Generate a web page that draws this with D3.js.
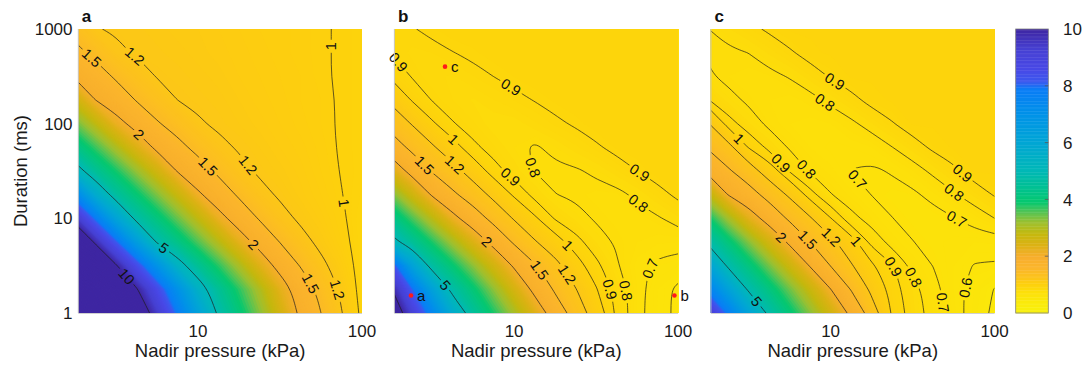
<!DOCTYPE html>
<html>
<head>
<meta charset="utf-8">
<script src="https://cdn.jsdelivr.net/npm/d3@7"></script>
<style>
  body { margin: 0; background: #fff; }
  text { font-family: "Liberation Sans", Arial, Helvetica, sans-serif; }
</style>
</head>
<body>
<svg id="chart" width="1085" height="365"></svg>
<script>
// Sampling grid of the maps (log-spaced): pressure in kPa, duration in ms (top row first)
const pressureGrid = [1.778, 2.371, 3.162, 4.217, 5.623, 7.499, 10, 13.34, 17.78, 23.71, 31.62, 42.17, 56.23, 74.99, 100];
const durationGrid = [1000, 562.3, 316.2, 177.8, 100, 56.23, 31.62, 17.78, 10, 5.623, 3.162, 1.778, 1];

// Panel a field
const fieldA = [
  [1.38, 1.21, 1.18, 1.165, 1.15, 1.13, 1.12, 1.10, 1.08, 1.06, 1.05, 1.03, 1.01, 0.99, 0.97],
  [1.60, 1.41, 1.24, 1.18, 1.165, 1.15, 1.13, 1.11, 1.09, 1.07, 1.05, 1.03, 1.01, 0.99, 0.97],
  [1.92, 1.67, 1.45, 1.30, 1.19, 1.17, 1.15, 1.13, 1.10, 1.08, 1.06, 1.04, 1.01, 0.99, 0.97],
  [2.66, 2.00, 1.73, 1.48, 1.33, 1.20, 1.17, 1.15, 1.12, 1.09, 1.07, 1.04, 1.02, 0.99, 0.97],
  [3.49, 2.84, 2.18, 1.81, 1.53, 1.37, 1.22, 1.17, 1.14, 1.11, 1.08, 1.05, 1.02, 0.99, 0.97],
  [4.33, 3.68, 3.03, 2.38, 1.88, 1.60, 1.40, 1.25, 1.18, 1.14, 1.10, 1.07, 1.03, 0.99, 0.97],
  [5.38, 4.49, 3.86, 3.22, 2.58, 1.97, 1.67, 1.43, 1.26, 1.17, 1.13, 1.09, 1.04, 0.995, 0.97],
  [7.52, 5.76, 4.64, 4.00, 3.36, 2.72, 2.08, 1.72, 1.45, 1.27, 1.17, 1.11, 1.06, 1.003, 0.956],
  [9.56, 7.84, 6.13, 4.78, 4.13, 3.47, 2.82, 2.17, 1.76, 1.47, 1.28, 1.16, 1.09, 1.02, 0.935],
  [11.5, 9.83, 8.15, 6.47, 4.92, 4.26, 3.59, 2.93, 2.27, 1.81, 1.49, 1.29, 1.14, 1.04, 0.94],
  [13.2, 11.6, 10.1, 8.51, 6.94, 5.38, 4.47, 3.76, 3.06, 2.35, 1.82, 1.48, 1.26, 1.09, 0.94],
  [14.8, 13.3, 11.7, 10.1, 8.58, 7.02, 5.46, 4.49, 3.75, 3.02, 2.29, 1.75, 1.40, 1.16, 0.94],
  [15.8, 14.2, 12.6, 11.0, 9.43, 7.85, 6.27, 4.85, 4.08, 3.32, 2.55, 1.89, 1.50, 1.21, 0.96]
];

// Panel b field
const fieldB = [
  [0.882, 0.895, 0.916, 0.937, 0.94, 0.94, 0.94, 0.94, 0.94, 0.94, 0.94, 0.94, 0.94, 0.94, 0.94],
  [0.897, 0.875, 0.880, 0.898, 0.915, 0.933, 0.94, 0.94, 0.94, 0.94, 0.94, 0.94, 0.94, 0.94, 0.94],
  [0.976, 0.895, 0.865, 0.857, 0.879, 0.9005, 0.921, 0.938, 0.94, 0.94, 0.94, 0.94, 0.94, 0.94, 0.94],
  [1.154, 0.993, 0.895, 0.86, 0.837, 0.859, 0.881, 0.903, 0.925, 0.94, 0.94, 0.94, 0.94, 0.94, 0.94],
  [1.37, 1.19, 1.02, 0.906, 0.864, 0.822, 0.825, 0.855, 0.885, 0.91, 0.935, 0.94, 0.94, 0.94, 0.94],
  [1.70, 1.42, 1.23, 1.06, 0.92, 0.864, 0.82, 0.79, 0.819, 0.854, 0.889, 0.924, 0.94, 0.94, 0.94],
  [2.40, 1.82, 1.47, 1.28, 1.10, 0.94, 0.857, 0.798, 0.786, 0.79, 0.815, 0.857, 0.8997, 0.94, 0.94],
  [3.43, 2.65, 1.94, 1.56, 1.33, 1.14, 0.978, 0.869, 0.8015, 0.787, 0.772, 0.775, 0.817, 0.868, 0.92],
  [4.37, 3.63, 2.89, 2.15, 1.69, 1.39, 1.18, 1.02, 0.89, 0.83, 0.79, 0.772, 0.768, 0.791, 0.833],
  [5.30, 4.53, 3.82, 3.11, 2.40, 1.82, 1.45, 1.22, 1.06, 0.94, 0.84, 0.79, 0.76, 0.745, 0.74],
  [8.57, 6.26, 4.68, 3.98, 3.28, 2.57, 1.93, 1.53, 1.27, 1.06, 0.93, 0.81, 0.73, 0.68, 0.66],
  [10.1, 8.10, 6.25, 4.76, 4.02, 3.27, 2.52, 1.86, 1.45, 1.21, 1.01, 0.86, 0.74, 0.64, 0.58],
  [11.0, 9.23, 7.48, 5.73, 4.57, 3.83, 3.09, 2.35, 1.72, 1.34, 1.085, 0.876, 0.737, 0.637, 0.58]
];

// Panel c field
const fieldC = [
  [0.798, 0.837, 0.876, 0.914, 0.945, 0.945, 0.945, 0.945, 0.945, 0.945, 0.945, 0.945, 0.945, 0.945, 0.945],
  [0.792, 0.785, 0.801, 0.845, 0.889, 0.933, 0.945, 0.945, 0.945, 0.945, 0.945, 0.945, 0.945, 0.945, 0.945],
  [0.811, 0.78, 0.767, 0.777, 0.806, 0.857, 0.908, 0.945, 0.945, 0.945, 0.945, 0.945, 0.945, 0.945, 0.945],
  [0.906, 0.826, 0.785, 0.76, 0.747, 0.77, 0.821, 0.874, 0.928, 0.945, 0.945, 0.945, 0.945, 0.945, 0.945],
  [1.22, 0.944, 0.844, 0.78, 0.74, 0.728, 0.74, 0.781, 0.838, 0.894, 0.945, 0.945, 0.945, 0.945, 0.945],
  [1.47, 1.27, 0.99, 0.87, 0.79, 0.74, 0.712, 0.72, 0.74, 0.798, 0.858, 0.918, 0.945, 0.945, 0.945],
  [1.85, 1.54, 1.32, 1.08, 0.89, 0.79, 0.75, 0.698, 0.685, 0.708, 0.758, 0.82, 0.882, 0.944, 0.945],
  [2.89, 1.98, 1.64, 1.38, 1.16, 0.94, 0.805, 0.75, 0.698, 0.67, 0.68, 0.731, 0.788, 0.848, 0.908],
  [3.98, 3.13, 2.29, 1.76, 1.44, 1.22, 1.005, 0.83, 0.76, 0.702, 0.67, 0.66, 0.695, 0.744, 0.80],
  [4.86, 4.09, 3.32, 2.55, 1.89, 1.498, 1.26, 1.06, 0.87, 0.76, 0.703, 0.67, 0.65, 0.64, 0.645],
  [6.24, 4.87, 4.14, 3.40, 2.66, 1.96, 1.49, 1.22, 1.02, 0.91, 0.77, 0.698, 0.64, 0.595, 0.59],
  [7.76, 6.26, 4.88, 4.16, 3.44, 2.72, 2.01, 1.48, 1.15, 0.95, 0.84, 0.74, 0.64, 0.56, 0.495],
  [9.4, 7.8, 6.17, 4.79, 4.05, 3.31, 2.57, 1.86, 1.31, 0.98, 0.85, 0.76, 0.65, 0.55, 0.48]
];

// Contour levels drawn in each panel
const levelsA = [1, 1.2, 1.5, 2, 5, 10];
const levelsB = [0.6, 0.7, 0.8, 0.9, 1, 1.2, 1.5, 2, 5, 10];
const levelsC = [0.5, 0.6, 0.7, 0.8, 0.9, 1, 1.2, 1.5, 2, 5, 10];

// Inline contour labels: [level, pressure (kPa), duration (ms)]
const labelsA = [[1.2, 3.94, 471], [1.5, 2.19, 471], [1.2, 19.3, 33.7], [1.5, 11.3, 35.2], [2, 4.23, 72.9],
  [2, 21.2, 5.02], [5, 6.14, 4.82], [10, 3.76, 2.51], [1.5, 49.3, 2.06], [1.2, 71.6, 1.75], [1, 62.2, 650], [1, 80.5, 14.4]];
const labelsB = [[0.9, 1.95, 434], [0.9, 9.66, 245], [0.9, 58.6, 29.9], [0.8, 57.3, 14.4], [0.8, 12.6, 33.7],
  [0.9, 9.1, 25.4], [1, 4.17, 67.1], [1.2, 4.31, 36.6], [1.5, 2.82, 35.2], [2, 6.72, 5.45], [5, 3.74, 1.9],
  [1.5, 14.5, 2.84], [1.2, 21.6, 2.62], [1, 21.1, 5.02], [0.9, 38.5, 1.75], [0.8, 47.5, 1.75], [0.7, 61.4, 3.08]];
const labelsC = [[0.9, 10.6, 278], [0.8, 9.23, 171], [0.9, 62.8, 29.9], [0.8, 56.0, 18.4], [0.7, 58.6, 9.6],
  [1, 2.74, 67.1], [0.9, 4.91, 38.1], [0.8, 6.97, 32.4], [0.7, 14.4, 25.4], [2, 4.91, 6.15], [1.5, 7.29, 5.9],
  [1.2, 10.1, 6.4], [1, 14.4, 5.9], [0.9, 24.7, 3.09], [0.8, 32.7, 2.42], [0.7, 49.8, 1.32], [0.6, 64.4, 1.9], [5, 3.53, 1.32]];

// Marked conditions in panel b: [name, pressure (kPa), duration (ms)]
const markersB = [["a", 2.35, 1.53], ["b", 95, 1.53], ["c", 3.79, 400]];

// Axis ticks
const xTicks = [10, 100];
const yTicks = [1, 10, 100, 1000];
const colorTicks = [0, 2, 4, 6, 8, 10];

// Colour map stops
const cmapValues = [0, 0.5, 0.75, 1.0, 1.25, 1.6, 2.0, 2.4, 2.8, 3.2, 3.6, 3.9, 4.4, 5.0, 6.0, 7.0, 7.9, 8.15, 8.6, 9.3, 10];
const cmapColors = ["#f8f20c", "#fbe70a", "#fddf0a", "#fdd10c", "#fcc41a", "#fbb52c", "#f7ae2c", "#dcb214",
  "#c4b80e", "#9cc030", "#4cc458", "#06c86e", "#00c190", "#00b8b6", "#00a6d4", "#0092e8", "#0a7cf6",
  "#3c58ee", "#4848e6", "#4640d2", "#3e26a2"];

// ---------------------------------------------------------------------------
const W = 1085, H = 365;
const plotTop = 29, plotBottom = 313, plotWidth = 283.7;
const panelLefts = [78.3, 394.4, 710.9];
const xDomain = [1.862, 100];

const svg = d3.select("#chart");
const defs = svg.append("defs");

const y = d3.scaleLog().domain([1, 1000]).range([plotBottom, plotTop]);
const colorScale = d3.scaleLinear().domain(cmapValues).range(cmapColors).clamp(true);

const nx = pressureGrid.length, ny = durationGrid.length;
const colToLog = d3.scaleLinear().domain(pressureGrid.map((_, i) => i + 0.5)).range(pressureGrid.map(Math.log10));
const rowToLog = d3.scaleLinear().domain(durationGrid.map((_, i) => i + 0.5)).range(durationGrid.map(Math.log10));

const fillThresholds = d3.range(0, 3, 0.02).concat(d3.range(3, 16, 0.1));

const openCurve = d3.line().curve(d3.curveBasis);
const closedCurve = d3.line().curve(d3.curveBasisClosed);

// Break contour rings where they run along the padded grid border
function splitRings(geom) {
  const segs = [];
  const onEdge = p => p[0] <= 0 || p[0] >= nx || p[1] <= 0 || p[1] >= ny;
  geom.coordinates.forEach(poly => poly.forEach(ring => {
    let pts = ring.slice();
    const f = pts[0], l = pts[pts.length - 1];
    if (pts.length > 1 && f[0] === l[0] && f[1] === l[1]) pts.pop();
    const k = pts.findIndex(onEdge);
    if (k < 0) { if (pts.length > 2) segs.push({ closed: true, pts }); return; }
    const rot = pts.slice(k).concat(pts.slice(0, k));
    let cur = [];
    rot.forEach(p => {
      if (onEdge(p)) { if (cur.length > 1) segs.push({ closed: false, pts: cur }); cur = []; }
      else cur.push(p);
    });
    if (cur.length > 1) segs.push({ closed: false, pts: cur });
  }));
  return segs;
}

function drawPanel(p, left) {
  const right = left + plotWidth;
  const x = d3.scaleLog().domain(xDomain).range([left, right]);
  const px = c => x(Math.pow(10, colToLog(c)));
  const py = r => y(Math.pow(10, rowToLog(r)));
  const values = p.field.flat();
  const gen = d3.contours().size([nx, ny]);
  const proj = d3.geoTransform({ point(cx, cy) { this.stream.point(px(cx), py(cy)); } });
  const geo = d3.geoPath(proj);

  const clipId = "clip-" + p.id;
  defs.append("clipPath").attr("id", clipId).append("rect")
    .attr("x", left).attr("y", plotTop).attr("width", plotWidth).attr("height", plotBottom - plotTop);

  const g = svg.append("g");

  // colour map
  const fillG = g.append("g").attr("clip-path", `url(#${clipId})`);
  fillThresholds.forEach((t, i) => {
    const next = i + 1 < fillThresholds.length ? fillThresholds[i + 1] : t + 0.1;
    fillG.append("path")
      .attr("d", geo(gen.contour(values, t)))
      .attr("fill", colorScale((t + next) / 2));
  });

  // contour lines (gaps cut by a mask under the labels)
  const maskId = "mask-" + p.id;
  const mask = defs.append("mask").attr("id", maskId)
    .attr("maskUnits", "userSpaceOnUse").attr("x", 0).attr("y", 0).attr("width", W).attr("height", H);
  mask.append("rect").attr("x", 0).attr("y", 0).attr("width", W).attr("height", H).attr("fill", "white");
  const lineG = g.append("g").attr("clip-path", `url(#${clipId})`).append("g").attr("mask", `url(#${maskId})`);

  const pathsByLevel = new Map();
  p.levels.forEach(level => {
    const segs = splitRings(gen.contour(values, level));
    const els = segs.map(s => {
      const pix = s.pts.map(q => [px(q[0]), py(q[1])]);
      return lineG.append("path")
        .attr("d", (s.closed ? closedCurve : openCurve)(pix))
        .attr("fill", "none").attr("stroke", "#1e1e1e").attr("stroke-width", 0.7)
        .node();
    });
    pathsByLevel.set(level, els);
  });

  // contour labels
  const labelG = g.append("g");
  p.labels.forEach(([level, P, T]) => {
    const tx = x(P), ty = y(T);
    let best = null;
    (pathsByLevel.get(level) || []).forEach(el => {
      const L = el.getTotalLength();
      for (let s = 0; s <= L; s += 1.5) {
        const pt = el.getPointAtLength(s);
        if (pt.x < left - 1 || pt.x > right + 1 || pt.y < plotTop - 1 || pt.y > plotBottom + 1) continue;
        const d = (pt.x - tx) ** 2 + (pt.y - ty) ** 2;
        if (!best || d < best.d) best = { d, el, s, L, x: pt.x, y: pt.y };
      }
    });
    if (!best) return;
    const a0 = best.el.getPointAtLength(Math.max(0, best.s - 5));
    const a1 = best.el.getPointAtLength(Math.min(best.L, best.s + 5));
    let ang = Math.atan2(a1.y - a0.y, a1.x - a0.x) * 180 / Math.PI;
    if (ang > 90) ang -= 180;
    if (ang < -90) ang += 180;
    const tf = `translate(${best.x},${best.y}) rotate(${ang})`;
    const txt = labelG.append("text").attr("transform", tf)
      .attr("text-anchor", "middle").attr("dy", "0.36em")
      .attr("font-size", 14.5).attr("fill", "#111").text(String(level));
    const w = txt.node().getComputedTextLength();
    mask.append("rect").attr("transform", tf)
      .attr("x", -w / 2 - 2.5).attr("y", -6.5).attr("width", w + 5).attr("height", 13).attr("fill", "black");
  });

  // marked conditions
  if (p.markers) {
    p.markers.forEach(([name, P, T]) => {
      g.append("circle").attr("cx", x(P)).attr("cy", y(T)).attr("r", 2.3).attr("fill", "#ff1a1a");
      g.append("text").attr("x", x(P) + 6).attr("y", y(T)).attr("dy", "0.36em")
        .attr("font-size", 15).attr("fill", "#111").text(name);
    });
  }

  // axis lines
  g.append("line").attr("x1", left).attr("x2", left).attr("y1", plotTop).attr("y2", plotBottom)
    .attr("stroke", "#c8c8c8").attr("stroke-width", 1);
  g.append("line").attr("x1", left).attr("x2", right).attr("y1", plotBottom + 0.5).attr("y2", plotBottom + 0.5)
    .attr("stroke", "#d0d0d0").attr("stroke-width", 1);

  // x tick labels and title
  xTicks.forEach(t => {
    g.append("text").attr("x", x(t)).attr("y", 337).attr("text-anchor", "middle")
      .attr("font-size", 17).attr("fill", "#1a1a1a").text(t);
  });
  g.append("text").attr("x", (left + right) / 2).attr("y", 357).attr("text-anchor", "middle")
    .attr("font-size", 18.5).attr("fill", "#1a1a1a").text("Nadir pressure (kPa)");

  // panel letter
  g.append("text").attr("x", left + 3.5).attr("y", 22).attr("font-size", 17).attr("font-weight", "bold")
    .attr("fill", "#111").text(p.id);
}

const panels = [
  { id: "a", field: fieldA, levels: levelsA, labels: labelsA },
  { id: "b", field: fieldB, levels: levelsB, labels: labelsB, markers: markersB },
  { id: "c", field: fieldC, levels: levelsC, labels: labelsC }
];
panels.forEach((p, k) => drawPanel(p, panelLefts[k]));

// y axis (panel a only)
yTicks.forEach(t => {
  svg.append("text").attr("x", 72.5).attr("y", y(t)).attr("dy", "0.36em").attr("text-anchor", "end")
    .attr("font-size", 17).attr("fill", "#1a1a1a").text(t);
});
svg.append("text").attr("transform", `translate(27,${(plotTop + plotBottom) / 2}) rotate(-90)`)
  .attr("text-anchor", "middle").attr("font-size", 18.5).attr("fill", "#1a1a1a").text("Duration (ms)");

// colour bar
const cbLeft = 1015.7, cbWidth = 32.6;
const cy = d3.scaleLinear().domain([0, 10]).range([plotBottom, plotTop]);
const cbG = svg.append("g");
d3.range(0, 10, 0.05).forEach(v => {
  cbG.append("rect").attr("x", cbLeft).attr("width", cbWidth)
    .attr("y", cy(v + 0.05)).attr("height", cy(v) - cy(v + 0.05) + 0.4)
    .attr("fill", colorScale(v + 0.025));
});
cbG.append("rect").attr("x", cbLeft).attr("y", plotTop).attr("width", cbWidth).attr("height", plotBottom - plotTop)
  .attr("fill", "none").attr("stroke", "#808080").attr("stroke-width", 0.8);
colorTicks.forEach(t => {
  if (t > 0 && t < 10) {
    cbG.append("line").attr("x1", cbLeft + cbWidth - 3.5).attr("x2", cbLeft + cbWidth)
      .attr("y1", cy(t)).attr("y2", cy(t)).attr("stroke", "#555").attr("stroke-width", 0.8);
  }
  cbG.append("text").attr("x", 1063).attr("y", cy(t)).attr("dy", "0.36em")
    .attr("font-size", 17).attr("fill", "#1a1a1a").text(t);
});
</script>
</body>
</html>
